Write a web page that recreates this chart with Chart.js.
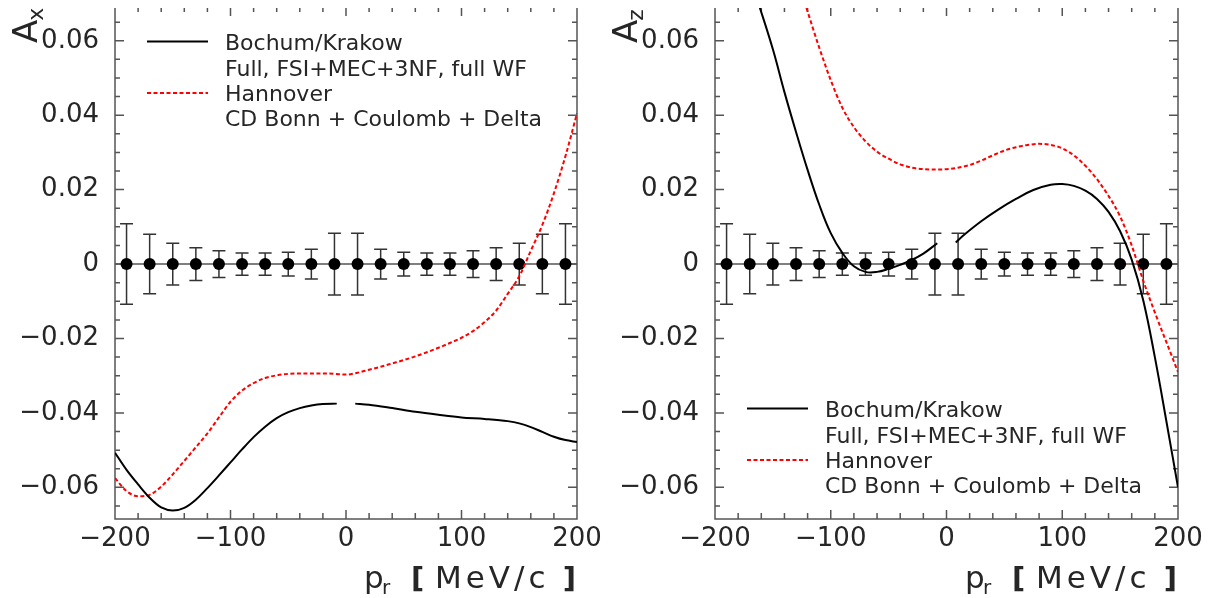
<!DOCTYPE html>
<html>
<head>
<meta charset="utf-8">
<script src="https://cdn.jsdelivr.net/npm/chart.js@4.4.0/dist/chart.umd.min.js"></script>
<style>
  body { margin: 0; background: #fff; }
  #wrap { position: relative; width: 1216px; height: 598px; overflow: hidden; }
  canvas { position: absolute; top: 0; }
</style>
</head>
<body>
<div id="wrap">
  <canvas id="chartX" width="640" height="598" style="left:0"></canvas>
  <canvas id="chartZ" width="616" height="598" style="left:600px"></canvas>
</div>
<script>
// axis ticks
const xTicks = [-200, -100, 0, 100, 200];
const xTickLabels = ["\u2212200", "\u2212100", "0", "100", "200"];
const yTicks = [-0.06, -0.04, -0.02, 0, 0.02, 0.04, 0.06];
const yTickLabels = ["\u22120.06", "\u22120.04", "\u22120.02", "0", "0.02", "0.04", "0.06"];

// data points (all at 0) with errors
const pointX = [-190, -170, -150, -130, -110, -90, -70, -50, -30, -10, 10, 30, 50, 70, 90, 110, 130, 150, 170, 190];
const pointY = [0, 0, 0, 0, 0, 0, 0, 0, 0, 0, 0, 0, 0, 0, 0, 0, 0, 0, 0, 0];
const pointErr = [0.0108, 0.0080, 0.0056, 0.0044, 0.0036, 0.0030, 0.0030, 0.0032, 0.0040, 0.0083,
                  0.0083, 0.0040, 0.0032, 0.0030, 0.0030, 0.0036, 0.0044, 0.0056, 0.0080, 0.0108];
const zeroLineX = [-200, 200];
const zeroLineY = [0, 0];

// A_x panel
const axBochumX = [-200, -190, -180, -170, -160, -150, -140, -130, -120, -110, -100, -90, -80, -70, -60, -50, -40, -30, -20, -8,
                   0, 8, 20, 40, 60, 80, 100, 120, 140, 150, 160, 170, 180, 190, 200];
const axBochumY = [-0.0507, -0.0553, -0.0592, -0.0628, -0.0654, -0.0662, -0.0655, -0.0633, -0.0602, -0.0568, -0.0533, -0.0498,
                   -0.0465, -0.0437, -0.0414, -0.0398, -0.0387, -0.0380, -0.0376, -0.0375,
                   null, -0.0375, -0.0378, -0.0387, -0.0397, -0.0405, -0.0412, -0.0416, -0.0422, -0.0428, -0.0438, -0.0451,
                   -0.0464, -0.0473, -0.0478];
const axHannoverX = [-200, -190, -180, -170, -160, -150, -140, -130, -120, -110, -100, -90, -80, -70, -60, -50, -40, -30, -20, -10,
                     0, 10, 20, 30, 40, 50, 60, 70, 80, 90, 100, 110, 120, 130, 140, 150, 160, 170, 180, 190, 200];
const axHannoverY = [-0.0575, -0.0610, -0.0624, -0.0620, -0.0598, -0.0565, -0.0529, -0.0492, -0.0455, -0.0412, -0.0370, -0.0340,
                     -0.0320, -0.0306, -0.0299, -0.0295, -0.0294, -0.0294, -0.0294, -0.0295,
                     -0.0297, -0.0292, -0.0284, -0.0276, -0.0267, -0.0258, -0.0248, -0.0237, -0.0225, -0.0212, -0.0198,
                     -0.0180, -0.0156, -0.0125, -0.0080, -0.0033, 0.0036, 0.0105, 0.0190, 0.0290, 0.0405];

// A_z panel
const azBochumX = [-163, -150, -140, -130, -120, -110, -100, -90, -80, -70, -60, -50, -40, -30, -20, -8,
                   0, 8, 15, 30, 45, 60, 75, 90, 100, 110, 120, 130, 140, 150, 160, 170, 180, 190, 200];
const azBochumY = [0.0706, 0.0577, 0.0462, 0.0355, 0.0253, 0.0160, 0.0083, 0.0030, -0.0006, -0.0021, -0.0021, -0.0013,
                   -0.0002, 0.0011, 0.0028, 0.0056,
                   null, 0.0058, 0.0078, 0.0115, 0.0147, 0.0175, 0.0199, 0.0213, 0.0215, 0.0210, 0.0197, 0.0175, 0.0140,
                   0.0088, 0.0012, -0.0098, -0.0250, -0.0423, -0.0600];
const azHannoverX = [-121, -110, -100, -90, -80, -70, -60, -50, -40, -30, -20, -10, 0, 10, 20, 30, 40, 50, 60, 70, 80, 90,
                     100, 110, 120, 130, 140, 150, 160, 170, 180, 190, 200];
const azHannoverY = [0.0688, 0.0582, 0.0494, 0.0420, 0.0368, 0.0330, 0.0302, 0.0283, 0.0268, 0.0259, 0.0255, 0.0254,
                     0.0255, 0.0259, 0.0266, 0.0278, 0.0292, 0.0305, 0.0314, 0.0320, 0.0323, 0.0320, 0.0311, 0.0292,
                     0.0264, 0.0228, 0.0183, 0.0128, 0.0050, -0.0045, -0.0130, -0.0210, -0.0290];

const legendLines = ["Bochum/Krakow", "Full, FSI+MEC+3NF, full WF", "Hannover", "CD Bonn + Coulomb + Delta"];

const FONT = "'DejaVu Sans', sans-serif";
const TEXT = "#262626";
const AXIS = "#555";
const redDash = [4, 2.5];

function xy(xs, ys) {
  return xs.map((v, i) => ({ x: v, y: ys[i] }));
}

const decor = {
  id: "decor",
  beforeDatasetsDraw(chart) {
    const { ctx, chartArea: a, scales: { x, y } } = chart;
    ctx.save();
    ctx.strokeStyle = AXIS;
    ctx.lineWidth = 1.5;
    ctx.beginPath();
    ctx.moveTo(a.left, a.top); ctx.lineTo(a.left, a.bottom);
    ctx.lineTo(a.right, a.bottom); ctx.lineTo(a.right, a.top);
    for (let v = -200; v <= 200; v += 20) {
      const px = x.getPixelForValue(v), major = v % 100 === 0;
      ctx.moveTo(px, a.bottom); ctx.lineTo(px, a.bottom - (major ? 9 : 6));
      ctx.moveTo(px, a.top); ctx.lineTo(px, a.top + (major ? 8 : 4));
    }
    for (let k = -13; k <= 13; k++) {
      const py = y.getPixelForValue(k * 0.005), len = k % 4 === 0 ? 9 : 5;
      ctx.moveTo(a.left, py); ctx.lineTo(a.left + len, py);
      ctx.moveTo(a.right, py); ctx.lineTo(a.right - len, py);
    }
    ctx.stroke();

    // error bars
    ctx.strokeStyle = "#333";
    ctx.beginPath();
    pointX.forEach((v, i) => {
      const px = x.getPixelForValue(v);
      const t = y.getPixelForValue(pointY[i] + pointErr[i]);
      const b = y.getPixelForValue(pointY[i] - pointErr[i]);
      ctx.moveTo(px, t); ctx.lineTo(px, b);
      ctx.moveTo(px - 6.5, t); ctx.lineTo(px + 6.5, t);
      ctx.moveTo(px - 6.5, b); ctx.lineTo(px + 6.5, b);
    });
    ctx.stroke();
    ctx.restore();
  },
  afterDraw(chart, args, o) {
    const { ctx, chartArea: a } = chart;
    ctx.save();
    ctx.fillStyle = TEXT;

    // legend
    const steps = [0, 26, 51, 76];
    ctx.font = "22px " + FONT;
    ctx.textBaseline = "alphabetic";
    legendLines.forEach((t, i) => ctx.fillText(t, a.left + 110, o.legendTop + steps[i]));
    ctx.lineWidth = 2;
    ctx.strokeStyle = "#000";
    ctx.beginPath();
    ctx.moveTo(a.left + 32, o.legendTop - 8.5); ctx.lineTo(a.left + 93, o.legendTop - 8.5);
    ctx.stroke();
    ctx.strokeStyle = "#ff0000";
    ctx.setLineDash(redDash);
    ctx.beginPath();
    ctx.moveTo(a.left + 32, o.legendTop + 51 - 8); ctx.lineTo(a.left + 93, o.legendTop + 51 - 8);
    ctx.stroke();
    ctx.setLineDash([]);

    // y title, rotated
    ctx.save();
    ctx.translate(a.left - 78, 43);
    ctx.rotate(-Math.PI / 2);
    ctx.font = "34px " + FONT;
    ctx.fillText("A", 0, 0);
    const wA = ctx.measureText("A").width;
    ctx.font = "22px " + FONT;
    ctx.fillText(o.sub, wA - 1, 6);
    ctx.restore();

    // x title: p_r [ MeV/c ]
    const r = a.right, base = 588;
    ctx.font = "31px " + FONT;
    ctx.fillText("p", r - 213, base);
    ctx.font = "20px " + FONT;
    ctx.fillText("r", r - 195, base + 6);
    ctx.font = "bold 29px " + FONT;
    ctx.fillText("[", r - 166, base);
    ctx.textAlign = "right";
    ctx.fillText("]", r - 1, base);
    ctx.textAlign = "left";
    ctx.font = "31px " + FONT;
    ctx.letterSpacing = "4px";
    ctx.fillText("MeV/c", r - 142, base);
    ctx.letterSpacing = "0px";
    ctx.restore();
  }
};

function makePanel(id, bochumX, bochumY, hannoverX, hannoverY, sub, legendTop, rightPad, bochumMode) {
  return new Chart(document.getElementById(id), {
    type: "line",
    data: {
      datasets: [
        { data: xy(bochumX, bochumY), borderColor: "#000", borderWidth: 2, pointRadius: 0,
          cubicInterpolationMode: bochumMode, tension: 0.4, spanGaps: false },
        { data: xy(hannoverX, hannoverY), borderColor: "#ff0000", borderWidth: 2, borderDash: redDash,
          pointRadius: 0, cubicInterpolationMode: "monotone" },
        { data: xy(pointX, pointY), showLine: false, pointRadius: 6, pointBackgroundColor: "#000",
          pointBorderWidth: 0 },
        { data: xy(zeroLineX, zeroLineY), borderColor: AXIS, borderWidth: 1.5, pointRadius: 0 }
      ]
    },
    options: {
      responsive: false,
      animation: false,
      devicePixelRatio: 1,
      events: [],
      layout: { padding: { left: 0, top: 8, right: rightPad, bottom: 0 } },
      plugins: {
        legend: { display: false },
        tooltip: { enabled: false },
        decor: { sub: sub, legendTop: legendTop }
      },
      scales: {
        x: {
          type: "linear",
          min: -200, max: 200,
          grid: { display: false, drawTicks: false },
          border: { display: false },
          afterBuildTicks: s => { s.ticks = xTicks.map(v => ({ value: v })); },
          afterFit: s => { s.height = 79; s.paddingLeft = 0; s.paddingRight = 0; },
          ticks: {
            padding: 5, maxRotation: 0, autoSkip: false,
            color: TEXT, font: { family: FONT, size: 26 },
            callback: v => xTickLabels[xTicks.indexOf(v)]
          }
        },
        y: {
          type: "linear",
          min: -0.0685, max: 0.0688,
          grid: { display: false, drawTicks: false },
          border: { display: false },
          afterBuildTicks: s => { s.ticks = yTicks.map(v => ({ value: v })); },
          afterFit: s => { s.width = 115; s.paddingTop = 0; s.paddingBottom = 0; },
          ticks: {
            padding: 16, color: TEXT, font: { family: FONT, size: 26 },
            callback: v => yTickLabels[yTicks.findIndex(t => Math.abs(t - v) < 1e-9)]
          }
        }
      }
    },
    plugins: [decor]
  });
}

makePanel("chartX", axBochumX, axBochumY, axHannoverX, axHannoverY, "x", 50, 63, "monotone");
makePanel("chartZ", azBochumX, azBochumY, azHannoverX, azHannoverY, "z", 417, 38, "default");
</script>
</body>
</html>
